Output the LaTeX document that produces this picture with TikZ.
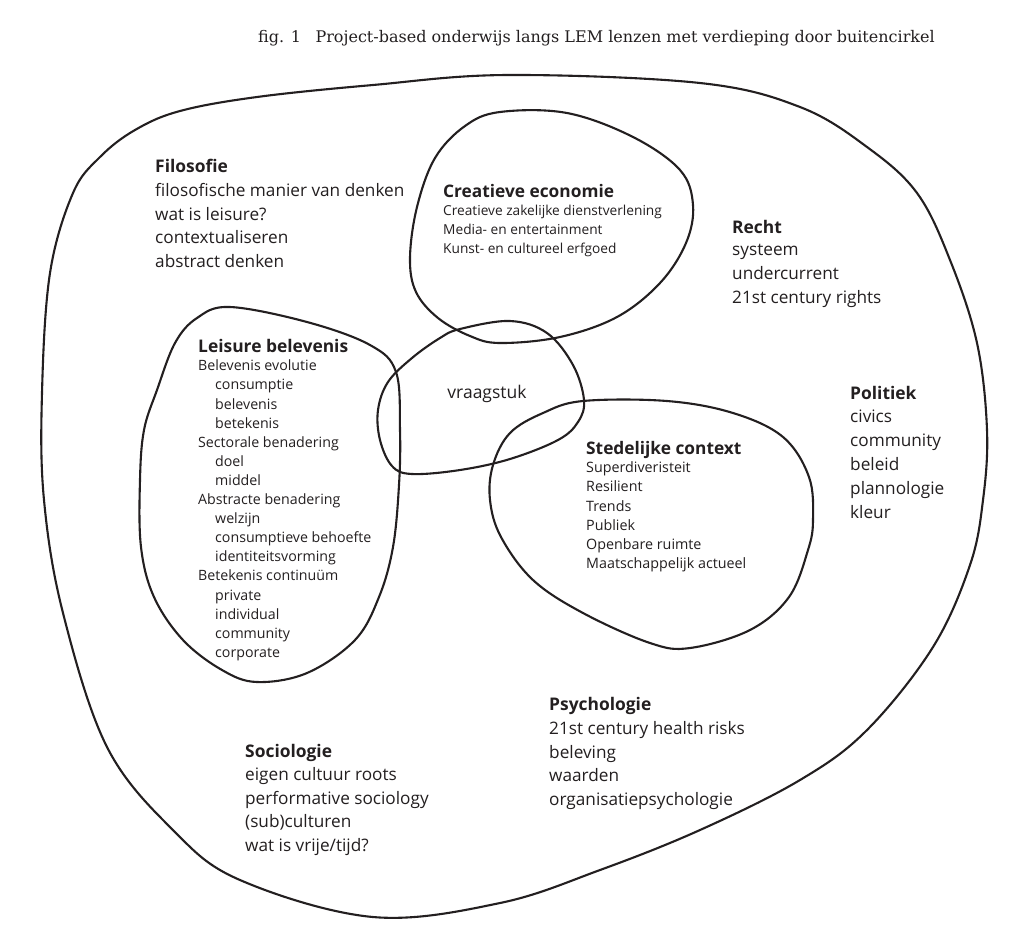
\documentclass[tikz,border=0pt]{standalone}
\usepackage{fontspec}
\setmainfont{Open Sans}
\newfontfamily\titlefont{DejaVu Serif}
\definecolor{ink}{HTML}{231F20}
\begin{document}
\begin{tikzpicture}[x=1pt,y=-1pt,
  blob/.style={draw=ink, line width=2.1pt, line join=round},
  hd/.style={anchor=base west, inner sep=0pt, text=ink, font=\bfseries\fontsize{17.4}{20}\selectfont},
  big/.style={anchor=north west, inner sep=0pt, align=left, text=ink,
    font=\fontsize{17.2}{23.8}\selectfont, execute at begin node={\rule{0pt}{1em}}},
  smallhd/.style={anchor=base west, inner sep=0pt, text=ink, font=\bfseries\fontsize{17.3}{20}\selectfont},
  small/.style={anchor=north west, inner sep=0pt, align=left, text=ink,
    font=\fontsize{14.2}{19.1}\selectfont, execute at begin node={\rule{0pt}{1em}}}]
\useasboundingbox (0,0) rectangle (1024,938);
\fill[white] (0,0) rectangle (1024,938);

% title
\node[anchor=base west, inner sep=0pt, text=ink, font=\titlefont\fontsize{16}{18}\selectfont] (title) at (258,42)
  {fig. 1\hspace{0.9em}Project-based onderwijs langs LEM lenzen met verdieping door buitencirkel};

% outer circle
\draw[blob] plot[smooth cycle, tension=0.6] coordinates {
  (507,75) (700,83) (800,107) (867,147) (917,193) (950,260) (977,343) (987,430)
  (983,500) (970,565) (933,647) (867,730) (800,780) (700,830) (600,870) (500,903)
  (373,917) (240,880) (173,830) (107,747) (63,613) (44,500) (42,393) (50,273)
  (73,193) (100,157) (135,130) (180,111) (257,97) (373,85)};

% creatieve economie
\draw[blob] plot[smooth cycle, tension=0.6] coordinates {
  (500,112) (567,113) (633,137) (680,170) (693,205) (686,243) (660,283) (617,317)
  (560,337) (500,343) (470,336) (438,318) (416,292) (410,258) (417,207) (435,158) (465,126)};

% leisure belevenis
\draw[blob] plot[smooth cycle, tension=0.6] coordinates {
  (230,307) (307,322) (370,345) (396,372) (400,430) (399,485) (393,547) (379,597)
  (355,640) (307,673) (257,682) (222,670) (183,640) (154,597) (141,547) (140,480)
  (144,430) (157,390) (175,343) (197,318)};

% vraagstuk
\draw[blob] plot[smooth cycle, tension=0.6] coordinates {
  (460,329) (510,321) (547,333) (573,365) (584,400) (578,422) (558,440) (510,459)
  (460,470) (412,474) (392,466) (380,440) (378,410) (388,382) (412,358) (440,338)};

% stedelijke context
\draw[blob] plot[smooth cycle, tension=0.6] coordinates {
  (583,401) (667,401) (733,413) (783,437) (809,477) (813,520) (808,550) (789,597)
  (750,630) (690,648) (650,643) (583,613) (533,580) (501,537) (490,500) (493,465)
  (510,433) (543,413)};

% texts
\node[hd] (filH) at (155,172) {Filosofie};
\node[big] (filT) at (155,183) {filosofische manier van denken\\wat is leisure?\\contextualiseren\\abstract denken};

\node[smallhd] (creH) at (443,197) {Creatieve economie};
\node[small, font=\fontsize{13.7}{18.6}\selectfont] (creT) at (443,205.3) {Creatieve zakelijke dienstverlening\\Media- en entertainment\\Kunst- en cultureel erfgoed};

\node[hd] (recH) at (732,233) {Recht};
\node[big] (recT) at (732,244) {systeem\\undercurrent\\21st century rights};

\node[hd] (leiH) at (198,352) {Leisure belevenis};
\node[small] (leiT) at (198,359.8) {Belevenis evolutie\\
  \hspace*{17pt}consumptie\\
  \hspace*{17pt}belevenis\\
  \hspace*{17pt}betekenis\\
  Sectorale benadering\\
  \hspace*{17pt}doel\\
  \hspace*{17pt}middel\\
  Abstracte benadering\\
  \hspace*{17pt}welzijn\\
  \hspace*{17pt}consumptieve behoefte\\
  \hspace*{17pt}identiteitsvorming\\
  Betekenis continuüm\\
  \hspace*{17pt}private\\
  \hspace*{17pt}individual\\
  \hspace*{17pt}community\\
  \hspace*{17pt}corporate};

\node[anchor=base, inner sep=0pt, text=ink, font=\fontsize{17.5}{20}\selectfont] (vraag) at (487,398) {vraagstuk};

\node[hd] (polH) at (850,399) {Politiek};
\node[big] (polT) at (850,410) {civics\\community\\beleid\\plannologie\\kleur};

\node[smallhd] (stdH) at (586,454) {Stedelijke context};
\node[small, font=\fontsize{14.3}{19.2}\selectfont] (stdT) at (586,461.7) {Superdiveristeit\\Resilient\\Trends\\Publiek\\Openbare ruimte\\Maatschappelijk actueel};

\node[hd] (psyH) at (549,710) {Psychologie};
\node[big] (psyT) at (549,721) {21st century health risks\\beleving\\waarden\\organisatiepsychologie};

\node[hd] (socH) at (245,757) {Sociologie};
\node[big] (socT) at (245,767) {eigen cultuur roots\\performative sociology\\(sub)culturen\\wat is vrije/tijd?};
\end{tikzpicture}
\end{document}
